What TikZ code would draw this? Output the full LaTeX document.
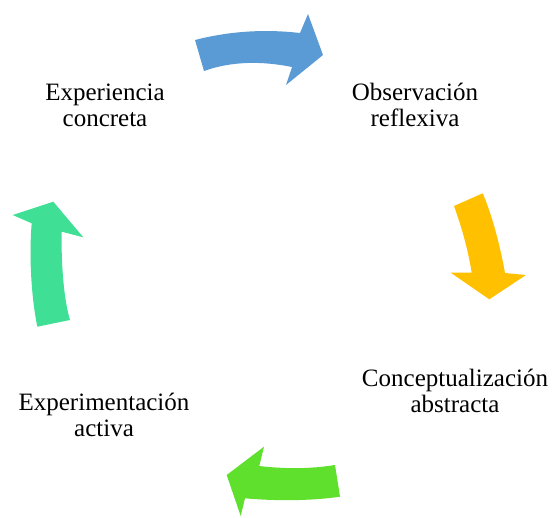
\documentclass[tikz,border=0pt]{standalone}
\usepackage{fontspec}
\setmainfont{Liberation Serif}
\usepackage{tikz}
\definecolor{cycblue}{RGB}{91,155,213}
\definecolor{cycorange}{RGB}{255,192,0}
\definecolor{cycgreen}{RGB}{94,224,44}
\definecolor{cycteal}{RGB}{64,223,150}

\begin{document}
\begin{tikzpicture}[x=1pt,y=1pt,yscale=-1,xscale=1,
    lbl/.style={font=\fontsize{25}{26}\selectfont, align=center, inner sep=0pt}]
      \useasboundingbox (0,0) rectangle (556,517);
      % arrows
      \fill [cycblue] (195,40) .. controls (230,31) and (265,29) .. (300,33) -- (308,14) -- (323,55) -- (286,85) -- (292,67)
             .. controls (262,61) and (232,61) .. (204,71) -- cycle ;
      \fill [cycorange] (454,206) -- (482.7,193.3) .. controls (492,215) and (500,245) .. (505,273) -- (526,275) -- (489.3,299.3)
             -- (450.7,272.7) -- (471.7,272.7) .. controls (468,250) and (462,228) .. (454,206) -- cycle ;
      \fill [cycgreen] (335,465) -- (340,496.7) .. controls (310,501) and (275,501) .. (245,498.3) -- (240.7,516) -- (226.7,475)
             -- (264,446.7) -- (259.3,466) .. controls (285,469) and (310,469) .. (335,465) -- cycle ;
      \fill [cycteal] (37.3,326.7) -- (70,320) .. controls (64,300) and (61,265) .. (61.7,231.7) -- (83.3,237.3) -- (53.3,201.7)
             -- (12.7,215) -- (31.7,223.3) .. controls (29,255) and (31,295) .. (37.3,326.7) -- cycle ;
      % labels
      \node (exper) at (105,105) [lbl] {Experiencia\\concreta};
      \node (obser) at (415,105) [lbl] {Observación\\reflexiva};
      \node (concep) at (455,391) [lbl] {Conceptualización\\abstracta};
      \node (experim) at (104,415) [lbl] {Experimentación\\activa};
    \end{tikzpicture}
\end{document}
